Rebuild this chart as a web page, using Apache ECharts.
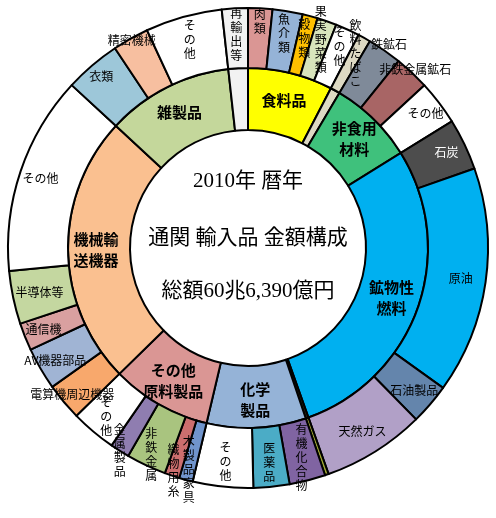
<!DOCTYPE html>
<html>
<head>
<meta charset="utf-8">
<script src="https://cdn.jsdelivr.net/npm/echarts@6/dist/echarts.min.js"></script>
<style>
html, body { margin: 0; padding: 0; background: #fff; }
#chart { width: 496px; height: 518px; }
</style>
</head>
<body>
<div id="chart"></div>
<script>
// 内側の区分
let innerNames = ['食料品', '飲料・たばこ', '非食用材料', '鉱物性燃料', '動植物性油脂', '化学製品', 'その他原料製品', '機械輸送機器', '雑製品', '再輸出等'];
let innerLabels = ['食料品', '', '非食用\n材料', '鉱物性\n燃料', '', '化学\n製品', 'その他\n原料製品', '機械輸\n送機器', '雑製品', ''];

// 外側の品目（億円）
let outerNames = ['肉類', '魚介類', '穀物類', '果実野菜類', 'その他', '飲料たばこ',
    '鉄鉱石', '非鉄金属鉱石', 'その他',
    '石炭', '原油', '石油製品', '天然ガス',
    '動植物性油脂',
    '有機化合物', '医薬品', 'その他',
    '木製品家具', '織物用糸', '非鉄金属', '金属製品', 'その他',
    '電算機周辺機器', 'AV機器部品', '通信機', '半導体等', 'その他',
    '衣類', '精密機械', 'その他',
    '再輸出等'];
let outerValues = [9900, 12300, 6200, 7900, 9900, 5200,
    14000, 14300, 18200,
    21100, 92600, 16700, 41800,
    1500,
    14700, 14700, 24600,
    5600, 6100, 16300, 7900, 18500,
    15200, 17300, 11300, 21700, 81200,
    22900, 14800, 31300,
    10600];
let outerGroup = [0, 0, 0, 0, 0, 1,
    2, 2, 2,
    3, 3, 3, 3,
    4,
    5, 5, 5,
    6, 6, 6, 6, 6,
    7, 7, 7, 7, 7,
    8, 8, 8,
    9];

let titleLines = ['2010年 暦年', '通関 輸入品 金額構成', '総額60兆6,390億円'];

// styles
let innerColors = ['#FFFF00', '#DDD9C3', '#3FC17C', '#00B0F0', '#2A2A10', '#95B3D7', '#DA9694', '#FAC090', '#C4D79B', '#F2F2F2'];
let outerColors = ['#DA9694', '#95B3D7', '#FFC000', '#D8E4BC', '#FFFFFF', '#DDD9C3',
    '#7F8A99', '#A86565', '#FFFFFF',
    '#4D4D4D', '#00B0F0', '#6485AC', '#B1A0C7',
    '#A0A832',
    '#8064A2', '#4BACC6', '#FFFFFF',
    '#7094CC', '#CC6E6E', '#A9C47F', '#8F7DB0', '#FFFFFF',
    '#F8A86C', '#A0B4D4', '#D9A0A0', '#C4D7A0', '#FFFFFF',
    '#9DC7D9', '#F7BFA0', '#FFFFFF',
    '#F2F2F2'];
let outerVertical = [1, 1, 1, 1, 1, 1,
    0, 0, 0,
    0, 0, 0, 0,
    0,
    1, 1, 1,
    1, 1, 1, 1, 1,
    0, 0, 0, 0, 0,
    0, 0, 1,
    1];
let outerShift = [14, 5, 4, 8, 8, 9,
    35, 32, 10,
    7, 2, 6, 3,
    0,
    3, 2, 2,
    16, 22, 15, 27, 7,
    16, 10, 7, 0, 6,
    13, 25, 4,
    1];
let hideOuter = { 13: true };

let cx = 248, cy = 248;

let innerValues = innerNames.map(() => 0);
outerValues.forEach((v, i) => { innerValues[outerGroup[i]] += v; });

let innerData = innerNames.map((n, i) => ({
    name: n,
    value: innerValues[i],
    itemStyle: { color: innerColors[i] },
    label: { formatter: innerLabels[i] }
}));

let outerData = outerNames.map((n, i) => ({
    name: n,
    value: outerValues[i],
    itemStyle: { color: outerColors[i] },
    label: {
        formatter: hideOuter[i] ? '' : (outerVertical[i] ? n.split('').join('\n') : n),
        color: outerColors[i] === '#4D4D4D' ? '#fff' : '#000'
    }
}));

let chart = echarts.init(document.getElementById('chart'));
let option = {
    backgroundColor: '#fff',
    animation: false,
    graphic: titleLines.map((t, i) => ({
        type: 'text',
        left: 'center',
        top: [171, 228, 281][i],
        style: {
            text: t,
            font: 'normal 21px "Liberation Serif", "Noto Sans CJK JP", serif',
            fill: '#000'
        }
    })),
    series: [{
            type: 'pie',
            center: [cx, cy],
            radius: [118, 180],
            startAngle: 90,
            clockwise: true,
            silent: true,
            itemStyle: { borderColor: '#000', borderWidth: 2 },
            label: {
                position: 'inside',
                fontFamily: '"Noto Sans CJK JP"',
                fontSize: 15,
                fontWeight: 'bold',
                color: '#000',
                lineHeight: 21
            },
            labelLine: { show: false },
            data: innerData
        }, {
            type: 'pie',
            center: [cx, cy],
            radius: [180, 240],
            startAngle: 90,
            clockwise: true,
            silent: true,
            itemStyle: { borderColor: '#000', borderWidth: 2 },
            label: {
                position: 'inside',
                fontFamily: '"Noto Sans CJK JP"',
                fontSize: 12,
                color: '#000',
                lineHeight: 14,
                overflow: 'none'
            },
            labelLine: { show: false },
            labelLayout: function (params) {
                let r = params.labelRect;
                let lx = r.x + r.width / 2;
                let ly = r.y + r.height / 2;
                let dx = lx - cx, dy = ly - cy;
                let d = Math.sqrt(dx * dx + dy * dy) || 1;
                let s = outerShift[params.dataIndex] || 0;
                return {
                    x: lx + dx / d * s,
                    y: ly + dy / d * s,
                    align: 'center',
                    verticalAlign: 'middle'
                };
            },
            data: outerData
        }
    ]
};
chart.setOption(option);
</script>
</body>
</html>
